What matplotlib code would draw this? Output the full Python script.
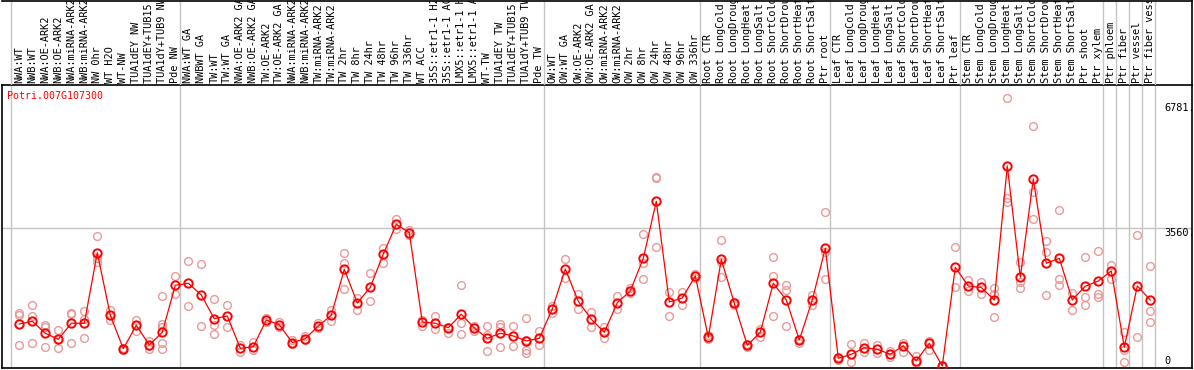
import matplotlib
matplotlib.use("Agg")
import matplotlib.pyplot as plt
import matplotlib.transforms as mtransforms

# -----------------------------------------------------------------------------
# data (expression of Potri.007G107300)
# -----------------------------------------------------------------------------
GENE = "Potri.007G107300"

samples = [
    "NWA:WT", "NWB:WT", "NWA:OE-ARK2", "NWB:OE-ARK2", "NWA:miRNA-ARK2",
    "NWB:miRNA-ARK2", "NW 0hr", "WT H2O", "WT-NW", "TUA1dEY NW",
    "TUA1dEY+TUB15 NW", "TUA1dY+TUB9 NW", "Pde NW",
    "NWA:WT GA", "NWBWT GA", "TW:WT", "TW:WT GA", "NWA:OE-ARK2 GA",
    "NWB:OE-ARK2 GA", "TW:OE-ARK2", "TW:OE-ARK2 GA", "NWA:miRNA-ARK2",
    "NWB:miRNA-ARK2", "TW:miRNA-ARK2", "TW:miRNA-ARK2", "TW 2hr", "TW 8hr",
    "TW 24hr", "TW 48hr", "TW 96hr", "TW 336hr", "WT ACC",
    "35S::etr1-1 H2O", "35S::etr1-1 ACC", "LMX5::etr1-1 H2O",
    "LMX5::etr1-1 ACC", "WT-TW", "TUA1dEY TW", "TUA1dEY+TUB15 TW",
    "TUA1dY+TUB9 TW", "Pde TW",
    "OW:WT", "OW:WT GA", "OW:OE-ARK2", "OW:OE-ARK2 GA", "OW:miRNA-ARK2",
    "OW:miRNA-ARK2", "OW 2hr", "OW 8hr", "OW 24hr", "OW 48hr", "OW 96hr",
    "OW 336hr",
    "Root CTR", "Root LongCold", "Root LongDrought", "Root LongHeat",
    "Root LongSalt", "Root ShortCold", "Root ShortDrought", "Root ShortHeat",
    "Root ShortSalt", "Ptr root",
    "Leaf CTR", "Leaf LongCold", "Leaf LongDrought", "Leaf LongHeat",
    "Leaf LongSalt", "Leaf ShortCold", "Leaf ShortDrought", "Leaf ShortHeat",
    "Leaf ShortSalt", "Ptr leaf",
    "Stem CTR", "Stem LongCold", "Stem LongDrought", "Stem LongHeat",
    "Stem LongSalt", "Stem ShortCold", "Stem ShortDrought", "Stem ShortHeat",
    "Stem ShortSalt", "Ptr shoot", "Ptr xylem",
    "Ptr phloem", "Ptr fiber", "Ptr vessel", "Ptr fiber vessel",
]

# index of first sample of each group (plus end)
group_starts = [0, 13, 41, 53, 63, 73, 84, 85, 86, 87, 88]

means = [
    1095, 1164, 855, 701, 1113, 1113, 2931, 1319, 459, 1061, 554, 881, 2092,
    2143, 1842, 1231, 1301, 469, 510, 1198, 1077, 613, 716, 1043, 1319, 2504,
    1636, 2040, 2898, 3663, 3447, 1146, 1113, 999, 1345, 992, 726, 855, 786,
    657, 726, 1481, 2512, 1680, 1216, 881, 1643, 1945, 2787, 4256, 1662, 1765,
    2331, 752, 2761, 1628, 546, 881, 2143, 1713, 683, 1713, 3045, 211, 314,
    484, 443, 314, 536, 149, 598, 13, 2555, 2074, 2035, 1713, 5165, 2298,
    4830, 2658, 2787, 1713, 2066, 2202, 2460, 495, 2074, 1713,
]

replicates = [
    [1370, 1319, 554], [1577, 1301, 598], [1077, 1025, 510], [933, 701, 469],
    [1386, 1352, 598], [1422, 1231, 734], [3362, 2787, 2700], [1455, 1198, 1319],
    [477, 451, 425], [1198, 922, 1061], [665, 443, 528],
    [1808, 1095, 1025, 598, 459], [2324, 1868],
    [2718, 1558], [2640, 1043], [1731, 1061, 837], [1577, 1025], [554, 374],
    [631, 425], [1249, 1146], [1146, 1018], [670, 567], [773, 670],
    [1108, 979], [1455, 1180], [2916, 2674, 1989], [1757, 1455], [2401, 1695],
    [3045, 2658], [3792, 3534], [3503, 3387], [1198, 1051], [1301, 958],
    [1025, 871], [2092, 1113, 837], [1043, 922], [1043, 811, 392],
    [1095, 1010, 495], [1043, 528], [1242, 683, 425, 355], [914, 546],
    [1558, 1370],
    [2769, 2272], [1860, 1473], [1412, 1025], [1025, 726], [1816, 1473],
    [2030, 1886], [3413, 2674, 2246], [4874, 4848, 3071], [1927, 1301],
    [1919, 1577], [2383, 2280],
    [799, 708], [3259, 2700, 2313], [1674, 1584], [592, 502], [958, 768],
    [2828, 2331, 1301], [2099, 1971, 1043], [701, 598], [1834, 1584],
    [3988, 2957, 2246],
    [245, 167], [572, 124], [613, 381], [554, 340], [407, 237], [613, 381],
    [270, 82], [665, 425], [38, 0], [3071, 2056],
    [2228, 1953], [2169, 1860], [2030, 1860, 1267], [6909, 4333, 4245],
    [2700, 2184, 2014], [6188, 4487, 3792], [3233, 2957, 1842],
    [4024, 2254, 2099], [1886, 1455], [2828, 1790, 1584], [2975, 1860, 1798],
    [2615, 2246], [896, 425, 124], [3387, 752], [2581, 1430, 1139],
]

ytick_values = [6781, 3560, 0]
ytick_labels = ["6781.", "3560.", "0"]

# -----------------------------------------------------------------------------
# layout (pixel based, figure is 1194 x 370)
# -----------------------------------------------------------------------------
W, H = 1194, 370
X0, X1 = 2, 1192          # plot box left / right in px
PX0, STEP = 19.3, 13.0    # px of first sample, px per sample


def px_to_idx(px):
    return (px - PX0) / STEP


mono = "DejaVu Sans Mono"
rep_color = "#e89a9a"
grid_color = "#c4c4c4"

fig = plt.figure(figsize=(W / 100, H / 100), dpi=100)

ax = fig.add_axes([X0 / W, 2 / H, (X1 - X0) / W, 283 / H])
hx = fig.add_axes([X0 / W, 285 / H, (X1 - X0) / W, 84 / H])

xlim = (px_to_idx(X0), px_to_idx(X1))
ax.set_xlim(*xlim)
hx.set_xlim(*xlim)
ax.set_ylim(-39, 7251)
hx.set_ylim(0, 1)

# group separators
for g in group_starts:
    xs = g - 8 / STEP
    ax.axvline(xs, color=grid_color, lw=1, zorder=0)
    hx.axvline(xs, color=grid_color, lw=1, zorder=0)

ax.axhline(3560, color=grid_color, lw=1, zorder=0)

# replicates
for i, reps in enumerate(replicates):
    ax.plot([i] * len(reps), reps, linestyle="none", marker="o",
            markersize=5.6, markerfacecolor="none",
            markeredgecolor=rep_color, markeredgewidth=1.0, zorder=2)

# mean line + markers
xs = list(range(len(means)))
ax.plot(xs, means, color="red", lw=0.9, zorder=3)
ax.plot(xs, means, linestyle="none", marker="o", markersize=6,
        markerfacecolor="none", markeredgecolor="red",
        markeredgewidth=1.4, zorder=4)

# value labels on the right
lab_x = px_to_idx(1164)
for v, t in zip(ytick_values, ytick_labels):
    va = "bottom" if v == 0 else "top"
    ax.text(lab_x, v, t, ha="left", va=va, fontsize=7.4, family=mono,
            color="black")

ax.text(px_to_idx(7), 7251 - 6 * 25.76, GENE, ha="left", va="top",
        fontsize=7.2, family=mono, color="red")

ax.set_xticks([])
ax.set_yticks([])
for s in ax.spines.values():
    s.set_color("black")
    s.set_linewidth(1.2)

# header with rotated sample names
trans = mtransforms.blended_transform_factory(hx.transData, hx.transAxes)
for i, name in enumerate(samples):
    hx.text(i, 0.02, name, rotation=90, ha="center", va="bottom",
            fontsize=7.4, family=mono, color="black", transform=trans,
            clip_on=True)

hx.set_xticks([])
hx.set_yticks([])
hx.spines["left"].set_visible(False)
hx.spines["bottom"].set_visible(False)
hx.spines["top"].set_linewidth(1.2)
hx.spines["right"].set_linewidth(1.2)
hx.patch.set_alpha(0)

fig.savefig("out.png", dpi=100)
